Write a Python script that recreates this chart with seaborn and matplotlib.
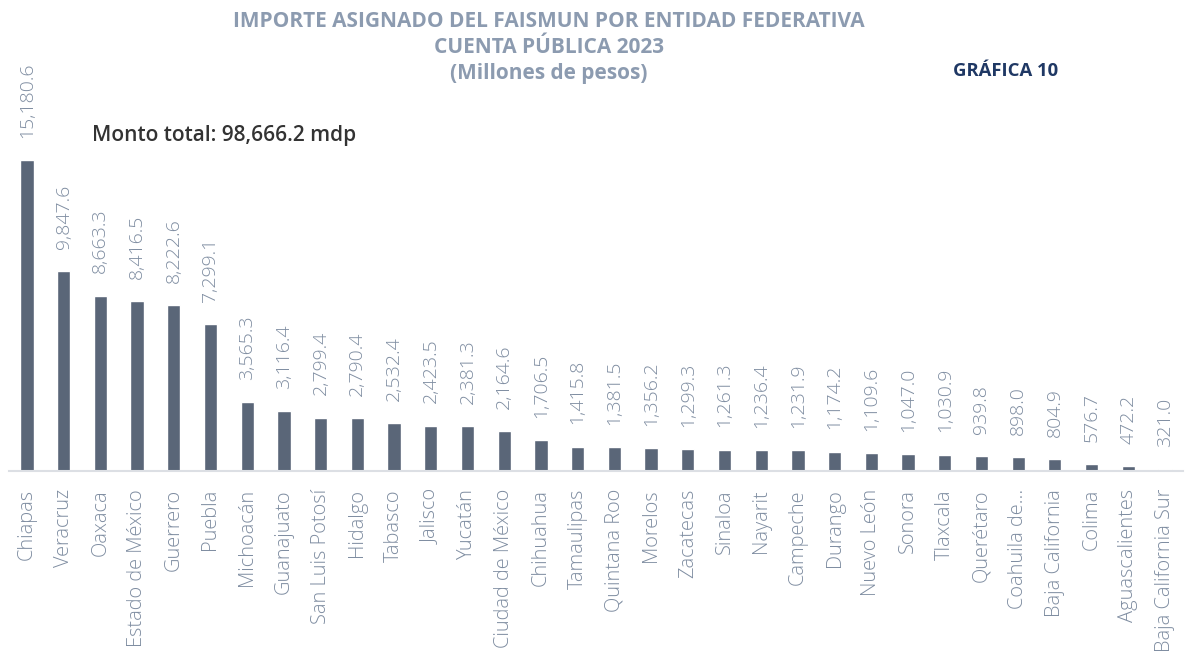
import matplotlib
matplotlib.use("Agg")
import matplotlib.pyplot as plt
import seaborn as sns
import pandas as pd

# Entidades y montos (millones de pesos)
estados = ["Chiapas", "Veracruz", "Oaxaca", "Estado de México", "Guerrero", "Puebla",
           "Michoacán", "Guanajuato", "San Luis Potosí", "Hidalgo", "Tabasco", "Jalisco",
           "Yucatán", "Ciudad de México", "Chihuahua", "Tamaulipas", "Quintana Roo",
           "Morelos", "Zacatecas", "Sinaloa", "Nayarit", "Campeche", "Durango",
           "Nuevo León", "Sonora", "Tlaxcala", "Querétaro", "Coahuila de...",
           "Baja California", "Colima", "Aguascalientes", "Baja California Sur"]
montos = [15180.6, 9847.6, 8663.3, 8416.5, 8222.6, 7299.1, 3565.3, 3116.4, 2799.4,
          2790.4, 2532.4, 2423.5, 2381.3, 2164.6, 1706.5, 1415.8, 1381.5, 1356.2,
          1299.3, 1261.3, 1236.4, 1231.9, 1174.2, 1109.6, 1047.0, 1030.9, 939.8,
          898.0, 804.9, 576.7, 472.2, 321.0]

titulo = "IMPORTE ASIGNADO DEL FAISMUN POR ENTIDAD FEDERATIVA\nCUENTA PÚBLICA 2023\n(Millones de pesos)"
total_txt = "Monto total: 98,666.2 mdp"

df = pd.DataFrame({"estado": estados, "monto": montos})

sns.set_style("white")
plt.rcParams["font.family"] = ["Open Sans", "DejaVu Sans"]

fig = plt.figure(figsize=(11.91, 6.6), dpi=100)
ax = fig.add_axes([0.0072, 0.2864, 0.9864, 0.4712])

sns.barplot(data=df, x="estado", y="monto", color="#5a6678", width=0.36,
            saturation=1, ax=ax)

ax.set_ylim(240, 15180.6)
ax.set_xlim(-0.5, len(estados) - 0.5)

# etiquetas de valor
labels = ["{:,.1f}".format(v) for v in montos]
ax.bar_label(ax.containers[0], labels=labels, rotation=90, padding=16,
             fontsize=14, fontweight="light", color="#7f8da1", clip_on=False)

ax.set_xlabel("")
ax.set_ylabel("")
ax.set_yticks([])
ax.tick_params(axis="x", length=0, pad=13)
plt.setp(ax.get_xticklabels(), rotation=90, fontsize=14.4, fontweight="light",
         color="#7f8da1")

for s in ["top", "right", "left"]:
    ax.spines[s].set_visible(False)
ax.spines["bottom"].set_color("#dcdfe4")
ax.spines["bottom"].set_linewidth(1.5)

fig.text(0.461, 0.983, titulo, ha="center", va="top", fontsize=15, fontweight="bold",
         color="#8c9bb0", linespacing=1.3)
fig.text(0.844, 0.892, "GRÁFICA 10", ha="center", va="center", fontsize=13.3,
         fontweight="bold", color="#1f3864")
fig.text(0.077, 0.794, total_txt, ha="left", va="center", fontsize=15,
         fontweight="semibold", color="#333333")

fig.savefig("out.png", dpi=100)
